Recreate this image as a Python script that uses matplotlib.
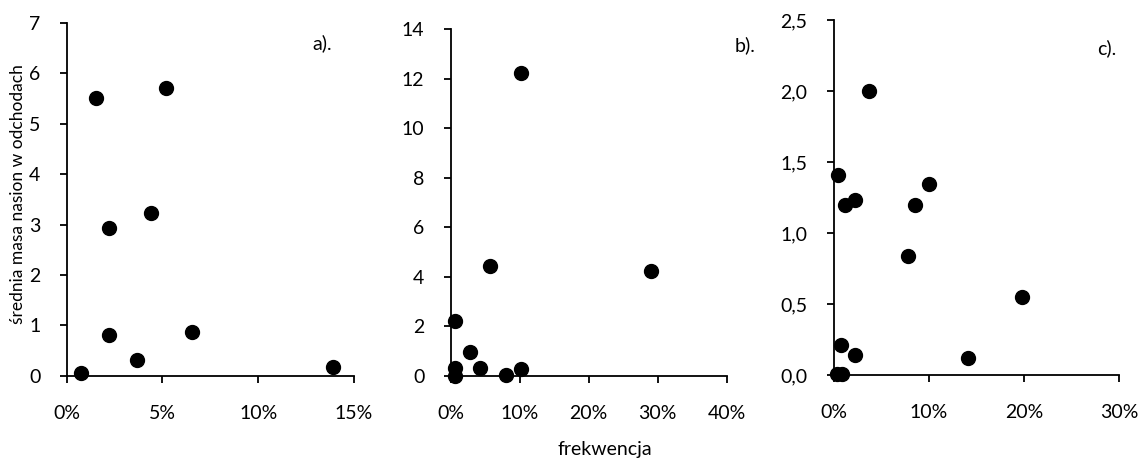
import matplotlib
matplotlib.use('Agg')
import matplotlib.pyplot as plt
from matplotlib.ticker import FuncFormatter

plt.rcParams['font.family'] = ['Lato', 'DejaVu Sans']

# a) frekwencja (%) vs srednia masa
a_freq = [0.74, 1.51, 5.16, 2.2, 4.39, 2.2, 3.65, 6.56, 13.9]
a_mass = [0.05, 5.51, 5.72, 2.94, 3.24, 0.80, 0.31, 0.87, 0.18]

# b)
b_freq = [10.2, 5.7, 29.1, 0.67, 2.8, 0.67, 0.67, 4.25, 7.97, 10.15]
b_mass = [12.22, 4.43, 4.23, 2.21, 0.97, 0.32, 0.0, 0.30, 0.03, 0.26]

# c)
c_freq = [3.68, 0.42, 1.16, 2.25, 9.97, 8.53, 7.75, 19.8, 14.1, 0.77, 2.2, 0.35, 0.87]
c_mass = [2.0, 1.41, 1.20, 1.23, 1.345, 1.20, 0.84, 0.55, 0.12, 0.21, 0.14, 0.01, 0.01]

panels = [
    (a_freq, a_mass, 'a).', [0, 5, 10, 15], [0, 1, 2, 3, 4, 5, 6, 7], False),
    (b_freq, b_mass, 'b).', [0, 10, 20, 30, 40], [0, 2, 4, 6, 8, 10, 12, 14], False),
    (c_freq, c_mass, 'c).', [0, 10, 20, 30], [0, 0.5, 1.0, 1.5, 2.0, 2.5], True),
]

boxes = [
    [0.0584, 0.204, 0.2516, 0.747],
    [0.3947, 0.204, 0.2416, 0.7346],
    [0.7303, 0.2055, 0.2496, 0.7521],
]
label_pos = [(322, 43), (745, 45), (1107, 48)]

fig = plt.figure(figsize=(11.42, 4.72), dpi=100)

for (xs, ys, name, xt, yt, comma), box, (lx, ly) in zip(panels, boxes, label_pos):
    ax = fig.add_axes(box)
    ax.plot(xs, ys, 'o', color='black', markersize=10, clip_on=False, zorder=5)
    ax.set_xlim(xt[0], xt[-1])
    ax.set_ylim(yt[0], yt[-1])
    ax.set_xticks(xt)
    ax.set_yticks(yt)
    ax.xaxis.set_major_formatter(FuncFormatter(lambda v, p: '%d%%' % v))
    if comma:
        ax.yaxis.set_major_formatter(FuncFormatter(lambda v, p: ('%.1f' % v).replace('.', ',')))
    else:
        ax.yaxis.set_major_formatter(FuncFormatter(lambda v, p: '%d' % v))
    for s in ['top', 'right']:
        ax.spines[s].set_visible(False)
    for s in ['left', 'bottom']:
        ax.spines[s].set_linewidth(1.3)
    ax.tick_params(axis='x', length=5, width=1.3, pad=16, labelsize=14, colors='black')
    ax.tick_params(axis='y', length=5, width=1.3, pad=14, labelsize=14, colors='black')
    fig.text(lx / 1142, 1 - ly / 472, name, fontsize=14, ha='center', va='center')

fig.text(18 / 1142, 1 - 194 / 472, 'średnia masa nasion w odchodach', rotation=90,
         fontsize=12.5, ha='center', va='center')
fig.text(605 / 1142, 1 - 450 / 472, 'frekwencja', fontsize=14, ha='center', va='center')

fig.savefig('out.png', dpi=100)
